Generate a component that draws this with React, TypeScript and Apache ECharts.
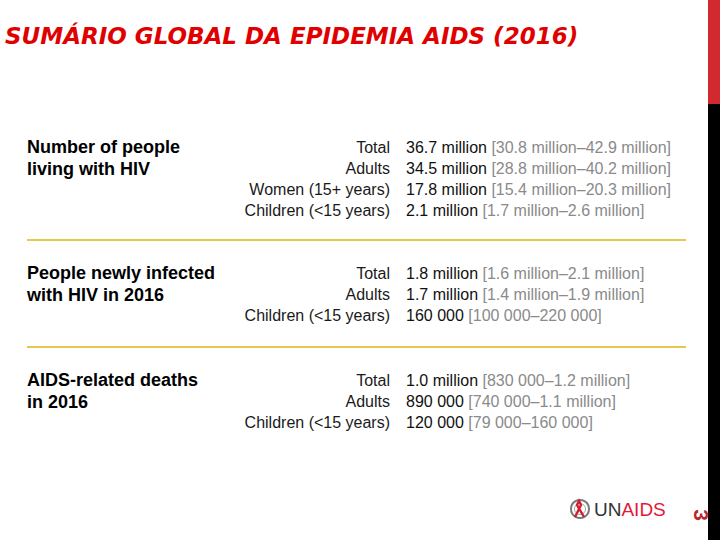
import React, { useEffect, useRef } from "react";
import * as echarts from "echarts";

const TITLE = "SUMÁRIO GLOBAL DA EPIDEMIA AIDS (2016)";
const PAGE = "3";

const sectionTitles = [
  ["Number of people", "living with HIV"],
  ["People newly infected", "with HIV in 2016"],
  ["AIDS-related deaths", "in 2016"],
];

const rowLabels = [
  ["Total", "Adults", "Women (15+ years)", "Children (<15 years)"],
  ["Total", "Adults", "Children (<15 years)"],
  ["Total", "Adults", "Children (<15 years)"],
];

const estimates = [
  ["36.7 million", "34.5 million", "17.8 million", "2.1 million"],
  ["1.8 million", "1.7 million", "160 000"],
  ["1.0 million", "890 000", "120 000"],
];

const ranges = [
  [
    "[30.8 million–42.9 million]",
    "[28.8 million–40.2 million]",
    "[15.4 million–20.3 million]",
    "[1.7 million–2.6 million]",
  ],
  ["[1.6 million–2.1 million]", "[1.4 million–1.9 million]", "[100 000–220 000]"],
  ["[830 000–1.2 million]", "[740 000–1.1 million]", "[79 000–160 000]"],
];

// layout
const sectionTop = [147, 273, 380];
const rowStep = 21.2;
const dividerY = [240, 347];

export default function App() {
  const ref = useRef<HTMLDivElement>(null);
  useEffect(() => {
    if (!ref.current) return;
    const chart = echarts.init(ref.current, null, { renderer: "svg" });
    const font = "Liberation Sans, Arial, sans-serif";
    const els: any[] = [];

    els.push({ type: "rect", shape: { x: 0, y: 0, width: 720, height: 540 }, style: { fill: "#ffffff" }, z: 0 });
    // right bar
    els.push({ type: "rect", shape: { x: 708, y: 0, width: 12, height: 540 }, style: { fill: "#000000" }, z: 1 });
    els.push({ type: "rect", shape: { x: 708, y: 0, width: 12, height: 104 }, style: { fill: "#d2292f" }, z: 2 });

    // title
    els.push({
      type: "text",
      x: 5,
      y: 36,
      style: {
        text: TITLE,
        fill: "#e00000",
        font: "italic bold 23px 'DejaVu Sans', Verdana, sans-serif",
        verticalAlign: "middle",
        align: "left",
      },
      z: 3,
    });

    // page number rotated clockwise
    els.push({
      type: "text",
      x: 701,
      y: 515,
      rotation: -Math.PI / 2,
      style: {
        text: PAGE,
        fill: "#b5282d",
        font: "bold 21px " + font,
        align: "center",
        verticalAlign: "middle",
      },
      z: 3,
    });

    // dividers
    dividerY.forEach((y) => {
      els.push({
        type: "line",
        shape: { x1: 27, y1: y, x2: 686, y2: y },
        style: { stroke: "#e6c84e", lineWidth: 2 },
        z: 3,
      });
    });

    sectionTitles.forEach((lines, s) => {
      lines.forEach((t, i) => {
        els.push({
          type: "text",
          x: 27,
          y: sectionTop[s] + i * 22,
          style: {
            text: t,
            fill: "#000000",
            font: "bold 18px " + font,
            verticalAlign: "middle",
            align: "left",
          },
          z: 3,
        });
      });
      rowLabels[s].forEach((lab, i) => {
        const y = sectionTop[s] + i * rowStep;
        els.push({
          type: "text",
          x: 390,
          y,
          style: {
            text: lab,
            fill: "#1a1a1a",
            font: "16px " + font,
            verticalAlign: "middle",
            align: "right",
          },
          z: 3,
        });
        els.push({
          type: "text",
          x: 406,
          y,
          style: {
            text: `{v|${estimates[s][i]}} {r|${ranges[s][i]}}`,
            font: "16px " + font,
            verticalAlign: "middle",
            align: "left",
            rich: {
              v: { fill: "#111111", font: "16px " + font },
              r: { fill: "#8a8a8a", font: "16px " + font },
            },
          },
          z: 3,
        });
      });
    });

    // UNAIDS logo
    els.push({ type: "circle", shape: { cx: 580, cy: 509, r: 9 }, style: { fill: "none", stroke: "#7a7a7a", lineWidth: 2 }, z: 3 });
    els.push({ type: "circle", shape: { cx: 580, cy: 509, r: 5.5 }, style: { fill: "none", stroke: "#a0a0a0", lineWidth: 1 }, z: 3 });
    els.push({
      type: "polyline",
      shape: { points: [[575, 517], [581, 505], [579, 501], [577, 505], [584, 517]] },
      style: { fill: "none", stroke: "#d0202e", lineWidth: 2.4 },
      z: 4,
    });
    els.push({
      type: "text",
      x: 594,
      y: 509,
      style: {
        text: "{u|UN}{a|AIDS}",
        font: "19px " + font,
        verticalAlign: "middle",
        align: "left",
        rich: {
          u: { fill: "#333333", font: "19px " + font },
          a: { fill: "#e4173b", font: "19px " + font },
        },
      },
      z: 3,
    });

    chart.setOption({ animation: false, graphic: { elements: els } });
    return () => chart.dispose();
  }, []);
  return (
    <div
      ref={ref}
      style={{ position: "fixed", left: 0, top: 0, width: 720, height: 540, background: "#fff" }}
    />
  );
}
